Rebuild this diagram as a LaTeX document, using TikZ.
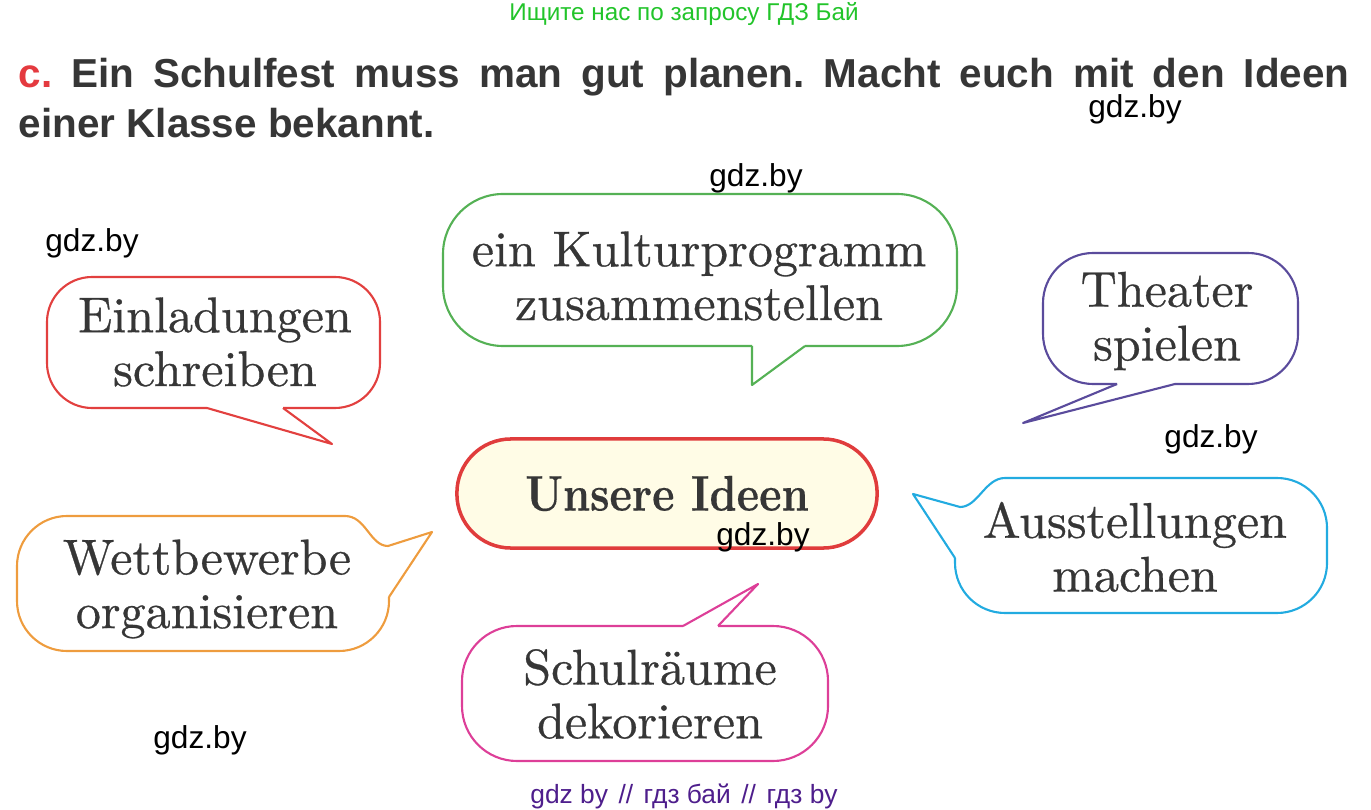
\documentclass[tikz,border=0pt]{standalone}
\usepackage{fontspec}
\usepackage{graphicx}
\newfontfamily\headfont{Liberation Sans}
\newfontfamily\markfont{Liberation Sans}
\newfontfamily\bubfont{lmroman10-regular}[Extension=.otf, FakeBold=0.6]
\newfontfamily\ideefont{lmroman10-bold}[Extension=.otf, FakeBold=0.3]
\definecolor{textgray}{HTML}{363636}
\definecolor{taskred}{HTML}{E43A3F}
\definecolor{searchgreen}{HTML}{22C42A}
\definecolor{footpurple}{HTML}{4E1E8C}
\definecolor{einlcol}{HTML}{E2403F}
\definecolor{kultcol}{HTML}{55B155}
\definecolor{theatcol}{HTML}{5A4B9C}
\definecolor{wettcol}{HTML}{EE9C3E}
\definecolor{ausscol}{HTML}{22ABE0}
\definecolor{schulcol}{HTML}{DD3F98}
\definecolor{ideered}{HTML}{E03C3C}
\definecolor{ideefill}{HTML}{FFFCE6}
\tikzset{
  bubble/.style={line width=0.6pt, line join=round},
  bubtext/.style={align=center, text=textgray, inner sep=0pt, font=\bubfont\fontsize{14.25}{15.3}\selectfont},
  wmark/.style={anchor=base, inner sep=0pt, font=\markfont\fontsize{9}{10}\selectfont},
  ideebox/.style={draw=ideered, fill=ideefill, line width=1pt, rounded corners=5.4mm,
    minimum width=4.2cm, minimum height=1.09cm, inner sep=0pt, text=textgray,
    font=\ideefont\fontsize{14.25}{15.3}\selectfont}
}

\begin{document}
\begin{tikzpicture}[x=0.01cm, y=-0.01cm]
\useasboundingbox (0,0) rectangle (1371,810);
\node[anchor=base, inner sep=0pt, text=searchgreen, font=\markfont\fontsize{6.9}{8}\selectfont] (search) at (684,21) {Ищите нас по запросу ГДЗ Бай};
\node[anchor=north west, inner sep=0pt, text width=13.3cm, align=justify, text=textgray, font=\headfont\bfseries\fontsize{11.5}{14.2}\selectfont] (task) at (18,57.5) {\frenchspacing\textcolor{taskred}{c.} Ein Schulfest muss man gut planen. Macht euch mit den Ideen\linebreak einer Klasse bekannt.};

\draw[bubble, einlcol, rounded corners=4.5mm] (283,408) -- (380,408) -- (380,277) -- (47,277) -- (47,408) -- (207,408);
\draw[bubble, einlcol] (207,408) -- (332,444) -- (283,408);
\draw[bubble, kultcol, rounded corners=6mm] (805,346) -- (957,346) -- (957,194) -- (443,194) -- (443,346) -- (752,346);
\draw[bubble, kultcol] (752,346) -- (752,385) -- (805,346);
\draw[bubble, theatcol, rounded corners=5mm] (1175,384) -- (1298,384) -- (1298,253) -- (1043,253) -- (1043,384) -- (1117,384);
\draw[bubble, theatcol] (1117,384) -- (1023,423) -- (1175,384);
\draw[bubble, wettcol, rounded corners=5mm] (389,597) -- (389,651) -- (17,651) -- (17,516) -- (345,516);
\draw[bubble, wettcol] (345,516) .. controls (366,516) and (370,546) .. (388,546) -- (432,532) -- (389,597);
\draw[bubble, ausscol, rounded corners=5mm] (955,558) -- (955,613) -- (1327,613) -- (1327,478) -- (1005,478);
\draw[bubble, ausscol] (1005,478) .. controls (985,478) and (978,507) .. (960,507) -- (913,494) -- (955,558);
\draw[bubble, schulcol, rounded corners=5.5mm] (718,626) -- (828,626) -- (828,761) -- (462,761) -- (462,626) -- (683,626);
\draw[bubble, schulcol] (683,626) -- (758,584) -- (718,626);

\node[bubtext] (einl) at (215,342) {Einladungen\\schreiben};
\node[bubtext] (kult) at (699,276) {ein Kulturprogramm\\zusammenstellen};
\node[bubtext] (theat) at (1167,321) {Theater\\spielen};
\node[bubtext] (wett) at (207,589) {Wettbewerbe\\organisieren};
\node[bubtext] (auss) at (1135,547) {Ausstellungen\\machen};
\node[bubtext] (schul) at (650,694) {Schulräume\\dekorieren};
\node[ideebox] (ideen) at (667,493.5) {\scalebox{0.85}[1]{Unsere Ideen}};

\node[wmark] (wm1) at (1135,118) {gdz.by};
\node[wmark] (wm2) at (756,187) {gdz.by};
\node[wmark] (wm3) at (92,252) {gdz.by};
\node[wmark] (wm4) at (1211,447) {gdz.by};
\node[wmark] (wm5) at (763,545) {gdz.by};
\node[wmark] (wm6) at (200,748) {gdz.by};
\node[anchor=base, inner sep=0pt, text=footpurple, font=\markfont\fontsize{7.5}{9}\selectfont] (foot) at (684,803) {gdz by\ \hspace{0.12em}//\ \hspace{0.12em}гдз бай\ \hspace{0.12em}//\ \hspace{0.12em}гдз by};
\end{tikzpicture}
\end{document}
